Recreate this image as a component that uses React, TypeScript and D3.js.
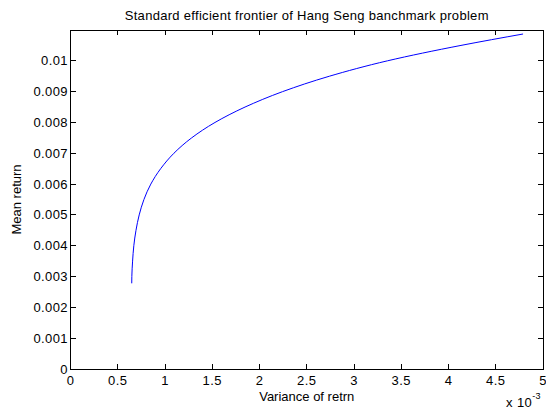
import React from 'react';
import * as d3 from 'd3';

// efficient frontier points (variance, mean return)
const variance = [
  0.000648, 0.000649, 0.000657, 0.00067, 0.000693, 0.000727, 0.000777, 0.00085,
  0.000954, 0.001094, 0.001282, 0.001529, 0.001847, 0.002244, 0.002739, 0.003354,
  0.004132, 0.004789,
];
const meanReturn = [
  0.00278, 0.003, 0.0035, 0.004, 0.0045, 0.005, 0.0055, 0.006,
  0.0065, 0.007, 0.0075, 0.008, 0.0085, 0.009, 0.0095, 0.01,
  0.0105, 0.01087,
];

const xTicks = [0, 0.0005, 0.001, 0.0015, 0.002, 0.0025, 0.003, 0.0035, 0.004, 0.0045, 0.005];
const yTicks = [0, 0.001, 0.002, 0.003, 0.004, 0.005, 0.006, 0.007, 0.008, 0.009, 0.01];

const width = 546;
const height = 408;
const left = 70.5;
const right = 543;
const top = 30;
const bottom = 369;
const tickLen = 5;
const font = 'Liberation Sans, Arial, Helvetica, sans-serif';

export default function App() {
  const xScale = d3.scaleLinear().domain([0, 0.005]).range([left, right]);
  const yScale = d3.scaleLinear().domain([0, 0.011]).range([bottom, top]);

  const points: [number, number][] = variance.map((v, i) => [v, meanReturn[i]]);
  const line = d3
    .line<[number, number]>()
    .x(d => xScale(d[0]))
    .y(d => yScale(d[1]))
    .curve(d3.curveMonotoneY);

  return (
    <svg
      width={width}
      height={height}
      style={{ position: 'absolute', left: 0, top: 0, background: '#fff' }}
      fontFamily={font}
    >
      <rect x={0} y={0} width={width} height={height} fill="#fff" />
      <text x={(left + right) / 2} y={20} textAnchor="middle" fontSize={13} letterSpacing={0.3}>
        Standard efficient frontier of Hang Seng banchmark problem
      </text>

      <path d={line(points) || ''} fill="none" stroke="#0000ff" strokeWidth={1} />

      <g stroke="#000" strokeWidth={1} shapeRendering="crispEdges">
        <rect x={left} y={top} width={right - left} height={bottom - top} fill="none" />
        {xTicks.map(t => (
          <g key={`x${t}`}>
            <line x1={xScale(t)} x2={xScale(t)} y1={bottom} y2={bottom - tickLen} />
            <line x1={xScale(t)} x2={xScale(t)} y1={top} y2={top + tickLen} />
          </g>
        ))}
        {yTicks.map(t => (
          <g key={`y${t}`}>
            <line x1={left} x2={left + tickLen} y1={yScale(t)} y2={yScale(t)} />
            <line x1={right} x2={right - tickLen} y1={yScale(t)} y2={yScale(t)} />
          </g>
        ))}
      </g>

      <g fontSize={13} fill="#000" letterSpacing={0.4}>
        {xTicks.map(t => (
          <text key={`xl${t}`} x={xScale(t)} y={bottom + 15.5} textAnchor="middle">
            {d3.format('~g')(t * 1000)}
          </text>
        ))}
        {yTicks.map(t => (
          <text key={`yl${t}`} x={left - 2.5} y={yScale(t)} dy="0.35em" textAnchor="end">
            {t === 0 ? '0' : d3.format('~g')(t)}
          </text>
        ))}
      </g>

      <text x={(left + right) / 2} y={401} textAnchor="middle" fontSize={13}>
        Variance of retrn
      </text>
      <text
        transform={`translate(20.5,${(top + bottom) / 2}) rotate(-90)`}
        textAnchor="middle"
        fontSize={13}
      >
        Mean return
      </text>
      <text x={506} y={406.5} fontSize={13} letterSpacing={0.4}>
        x 10
        <tspan dy={-8} fontSize={9}>-3</tspan>
      </text>
    </svg>
  );
}
